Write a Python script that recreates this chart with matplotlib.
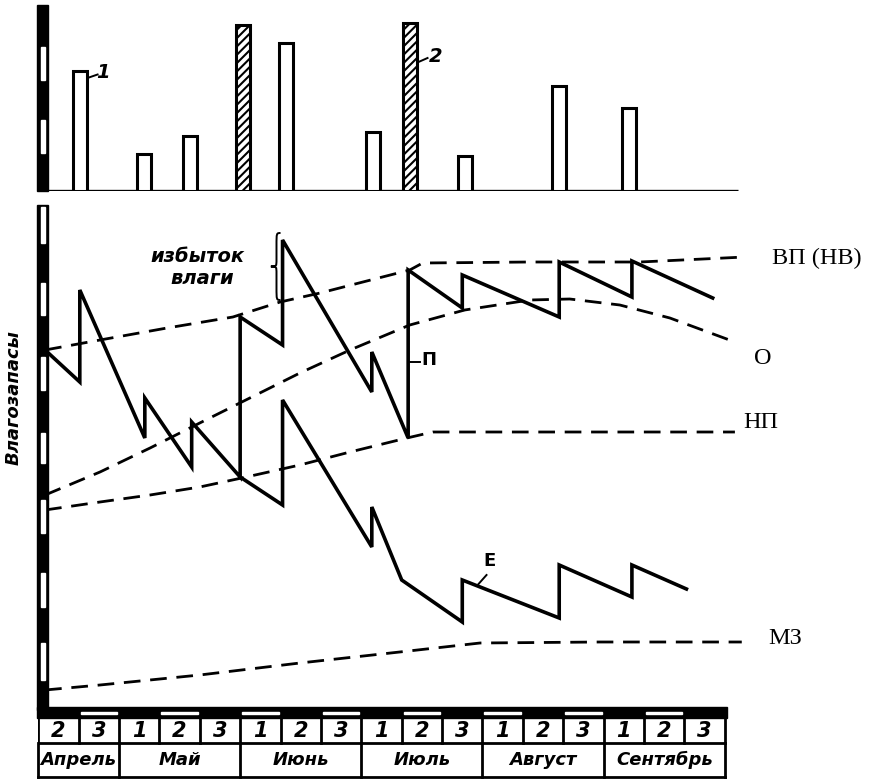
import matplotlib
matplotlib.use('Agg')
import matplotlib.pyplot as plt
from matplotlib.patches import Rectangle, PathPatch
from matplotlib.path import Path

plt.rcParams['font.family'] = ['DejaVu Sans']
plt.rcParams['hatch.linewidth'] = 1.5

# decades / months along the x axis (x measured in decades from "Апрель 2")
decades = ['2', '3'] + ['1', '2', '3'] * 5
months = ['Апрель', 'Май', 'Июнь', 'Июль', 'Август', 'Сентябрь']
month_edges = [0, 2, 5, 8, 11, 14, 17]

# precipitation (1) and irrigation (2) bars
rain_x = [1.04, 2.62, 3.76, 5.07, 6.14, 8.29, 9.2, 10.56, 12.89, 14.62]
rain_h = [24, 7.5, 11, 33.2, 29.6, 11.8, 33.6, 7, 21, 16.6]
irrigation = [False, False, False, True, False, False, True, False, False, False]

# boundary curves
vp_x = [0.17, 1.53, 3.19, 4.82, 5.99, 6.98, 8.04, 9.2, 9.52, 12.17, 14.9, 17.5]
vp_y = [72, 74, 76.4, 78.6, 81.6, 83.4, 85.6, 88, 89.4, 89.6, 89.6, 90.6]
o_x = [0.17, 1.53, 2.77, 4.0, 5.24, 6.48, 7.72, 9.2, 10.56, 12.17, 13.16, 14.4, 15.64, 17.25]
o_y = [43, 47.6, 52.4, 57.4, 62.4, 67.4, 72, 77, 80, 82, 82.2, 81, 78.4, 73.6]
np_x = [0.17, 1.53, 2.77, 4.0, 5.04, 6.48, 7.72, 9.13, 9.77, 10.94, 13.9, 17.25]
np_y = [40, 41.6, 43, 44.6, 46.4, 49, 51.6, 54.4, 55.6, 55.6, 55.6, 55.6]
mz_x = [0.17, 1.53, 4.0, 6.48, 8.95, 10.94, 13.9, 17.42]
mz_y = [4, 5, 7, 9.4, 11.6, 13.4, 13.6, 13.6]

# soil moisture with irrigation (П) and without (Е)
p_x = [0.17, 1.03, 1.03, 2.64, 2.64, 3.8, 3.8, 5.0, 5.0, 6.05, 6.05, 8.26, 8.26,
       9.16, 9.16, 10.5, 10.5, 12.9, 12.9, 14.7, 14.7, 16.7]
p_y = [72, 65.6, 84, 54.4, 62.4, 48.6, 57.6, 46.6, 78.6, 73, 94, 63.6, 71.6,
       54.4, 88, 80.4, 87, 78.6, 89.6, 82.6, 89.8, 82.4]
e_x = [5.0, 6.05, 6.05, 8.26, 8.26, 9.0, 10.5, 10.5, 12.9, 12.9, 14.7, 14.7, 16.05]
e_y = [46.6, 41, 62, 32.6, 40.6, 26, 17.6, 26, 18.4, 29, 22.6, 29, 24.2]

# white gaps of the scale bars on the y axes
main_gaps = [(93.4, 100.6), (79, 85.4), (64, 70.6), (49.4, 55.4), (35.4, 42), (20.6, 27.4), (6, 13.4)]
top_gaps = [(22.2, 28.8), (7.6, 14.2)]

W, H = 873, 782


def box(x0, y0, x1, y1):
    return [x0 / W, 1 - y1 / H, (x1 - x0) / W, (y1 - y0) / H]


def scale_bar(axis, top, gaps):
    axis.add_patch(Rectangle((-0.03, 0), 0.27, top, color='black', clip_on=False, zorder=5))
    for lo, hi in gaps:
        axis.add_patch(Rectangle((0.06, lo), 0.11, hi - lo, color='white', clip_on=False, zorder=6))


def label(axis, text, start, end, pos, **kw):
    axis.plot([start[0], end[0]], [start[1], end[1]], color='black', lw=1.4, clip_on=False)
    axis.text(pos[0], pos[1], text, ha='center', va='center', weight='bold', **kw)


fig = plt.figure(figsize=(W / 100, H / 100), dpi=100)
ax_top = fig.add_axes(box(38.2, 5, 745, 191))
ax = fig.add_axes(box(38.2, 205, 745, 710))
ax_tab = fig.add_axes(box(38.2, 705, 745, 778))
for a in (ax_top, ax, ax_tab):
    a.set_xlim(0, 17.5)
    a.axis('off')

# top: bars
ax_top.set_ylim(0, 37.2)
for x, h, irr in zip(rain_x, rain_h, irrigation):
    ax_top.bar(x, h, width=0.34, color='white', edgecolor='black', linewidth=2.2,
               hatch='////' if irr else None, zorder=3)
ax_top.plot([0, 17.32], [0, 0], color='black', lw=2.4, solid_capstyle='butt')
scale_bar(ax_top, 37.2, top_gaps)
label(ax_top, '1', (1.22, 22.6), (1.47, 23.3), (1.6, 23.6), fontsize=14, style='italic')
label(ax_top, '2', (9.36, 25.6), (9.64, 26.6), (9.85, 27), fontsize=14, style='italic')

# main chart
ax.set_ylim(0, 101)
dash = (0, (6, 3.5))
for xs, ys in [(vp_x, vp_y), (o_x, o_y), (np_x, np_y), (mz_x, mz_y)]:
    ax.plot(xs, ys, color='black', lw=2, linestyle=dash, clip_on=False)
ax.plot(p_x, p_y, color='black', lw=2.6, solid_joinstyle='miter')
ax.plot(e_x, e_y, color='black', lw=2.6, solid_joinstyle='miter')
scale_bar(ax, 101, main_gaps)

serif = dict(family='Liberation Serif', fontsize=17.5, ha='center', va='center')
ax.text(19.28, 90.4, 'ВП (НВ)', **serif)
ax.text(17.94, 70.4, 'О', **serif)
ax.text(17.89, 57.4, 'НП', **serif)
ax.text(18.49, 14.4, 'МЗ', **serif)

label(ax, 'П', (9.18, 69.6), (9.45, 69.6), (9.68, 70), fontsize=13)
label(ax, 'Е', (10.88, 25.0), (11.1, 27.0), (11.18, 29.8), fontsize=13)

ax.text(3.95, 90.6, 'избыток', fontsize=14, style='italic', weight='bold', ha='center', va='center')
ax.text(4.05, 86.2, 'влаги', fontsize=14, style='italic', weight='bold', ha='center', va='center')

# brace for the excess of moisture
xr, xm, xl = 6.0, 5.9, 5.76
yt, yb = 95.4, 82
ym = (yt + yb) / 2
verts = [(xr, yt), (xm, yt), (xm, yt), (xm, yt - 2.5), (xm, ym + 1.4),
         (xm, ym), (xm, ym), (xl, ym), (xm, ym), (xm, ym), (xm, ym - 1.4),
         (xm, yb + 2.5), (xm, yb), (xm, yb), (xr, yb)]
codes = [Path.MOVETO, Path.CURVE4, Path.CURVE4, Path.CURVE4, Path.LINETO,
         Path.CURVE4, Path.CURVE4, Path.CURVE4, Path.CURVE4, Path.CURVE4, Path.CURVE4,
         Path.LINETO, Path.CURVE4, Path.CURVE4, Path.CURVE4]
ax.add_patch(PathPatch(Path(verts, codes), fill=False, lw=1.4, edgecolor='black'))

fig.text(14 / W, 1 - 398 / H, 'Влагозапасы', rotation=90, fontsize=13, style='italic',
         weight='bold', ha='center', va='center')

# table with decades and months (y in pixels from the top of the table)
ax_tab.set_ylim(73, 0)
ax_tab.add_patch(Rectangle((-0.03, 2), 17.08, 11, color='black', clip_on=False))
for i in range(1, 17, 2):
    ax_tab.add_patch(Rectangle((i + 0.05, 6.5), 0.9, 2, color='white'))
lw_t = 2
ax_tab.plot([0, 17], [38, 38], color='black', lw=lw_t)
ax_tab.plot([0, 17], [72, 72], color='black', lw=lw_t, clip_on=False)
for i in range(18):
    ax_tab.plot([i, i], [13, 38], color='black', lw=lw_t)
for m in month_edges:
    ax_tab.plot([m, m], [38, 72], color='black', lw=lw_t, clip_on=False)
for i, d in enumerate(decades):
    ax_tab.text(i + 0.5, 26, d, fontsize=15, style='italic', weight='bold', ha='center', va='center')
for k, name in enumerate(months):
    ax_tab.text((month_edges[k] + month_edges[k + 1]) / 2, 55, name, fontsize=13,
                style='italic', weight='bold', ha='center', va='center')

fig.savefig('out.png', dpi=100)
